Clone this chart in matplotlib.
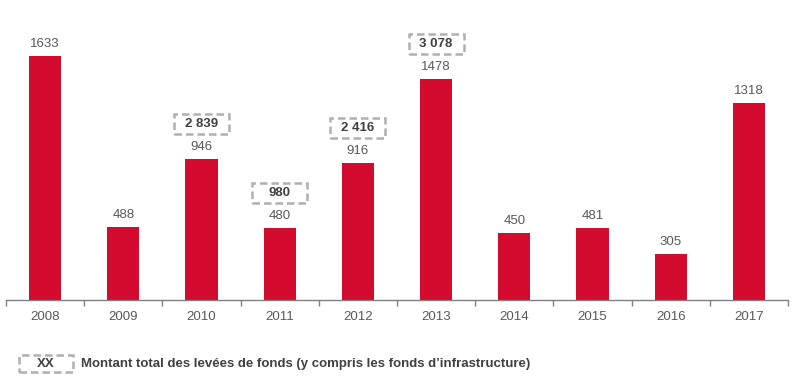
import matplotlib.pyplot as plt
from matplotlib.patches import Rectangle

plt.rcParams['font.family'] = ['Liberation Sans', 'DejaVu Sans']

years = ['2008', '2009', '2010', '2011', '2012', '2013', '2014', '2015', '2016', '2017']
values = [1633, 488, 946, 480, 916, 1478, 450, 481, 305, 1318]
# total fundraising (incl. infrastructure funds), shown for some years only
totals = {2: '2 839', 3: '980', 4: '2 416', 5: '3 078'}

red = '#d20b2f'
grey_txt = '#595959'
box_edge = '#b0b0b0'
dash = (0, (3, 1.6))

fig = plt.figure(figsize=(8.01, 3.86), dpi=100)
ax = fig.add_axes([6 / 801, 86 / 386, 782 / 801, 300 / 386])

px_y = 0.1494          # pixels per unit
px_x = 782 / 10        # pixels per category

x = range(len(years))
ax.bar(x, values, width=0.41, color=red, zorder=2)

ax.set_xlim(-0.5, len(years) - 0.5)
ax.set_ylim(0, 300 / px_y)

for s in ['top', 'right', 'left']:
    ax.spines[s].set_visible(False)
ax.spines['bottom'].set_color('#808080')
ax.spines['bottom'].set_linewidth(1)
ax.set_yticks([])
ax.set_xticks([i - 0.5 for i in range(len(years) + 1)])
ax.set_xticklabels([])
ax.tick_params(axis='x', length=4, color='#808080', width=1)
ax.set_xticks(list(x), minor=True)
ax.set_xticklabels(years, minor=True)
ax.tick_params(axis='x', which='minor', length=0, pad=8, labelsize=9.5, labelcolor=grey_txt)

bw, bh = 55 / px_x, 20 / px_y
for i, v in enumerate(values):
    ax.text(i, v + 12 / px_y, str(v), ha='center', va='center', fontsize=9.5, color=grey_txt)
    if i in totals:
        cy = v + 35 / px_y
        ax.add_patch(Rectangle((i - bw / 2, cy - bh / 2), bw, bh, fill=False, ec=box_edge,
                               lw=1.8, ls=dash, clip_on=False))
        ax.text(i, cy, totals[i], ha='center', va='center', fontsize=9.5,
                fontweight='bold', color='#404040')

# legend
fig.patches.append(Rectangle((19 / 801, 1 - 372 / 386), 54 / 801, 17 / 386, fill=False,
                             ec=box_edge, lw=1.8, ls=dash, transform=fig.transFigure))
fig.text(46 / 801, 1 - 364 / 386, 'XX', ha='center', va='center', fontsize=9.5,
         fontweight='bold', color='#404040')
fig.text(81 / 801, 1 - 364 / 386,
         'Montant total des levées de fonds (y compris les fonds d\u2019infrastructure)',
         ha='left', va='center', fontsize=9.5, fontweight='bold', color='#404040')

fig.savefig('out.png', dpi=100)
